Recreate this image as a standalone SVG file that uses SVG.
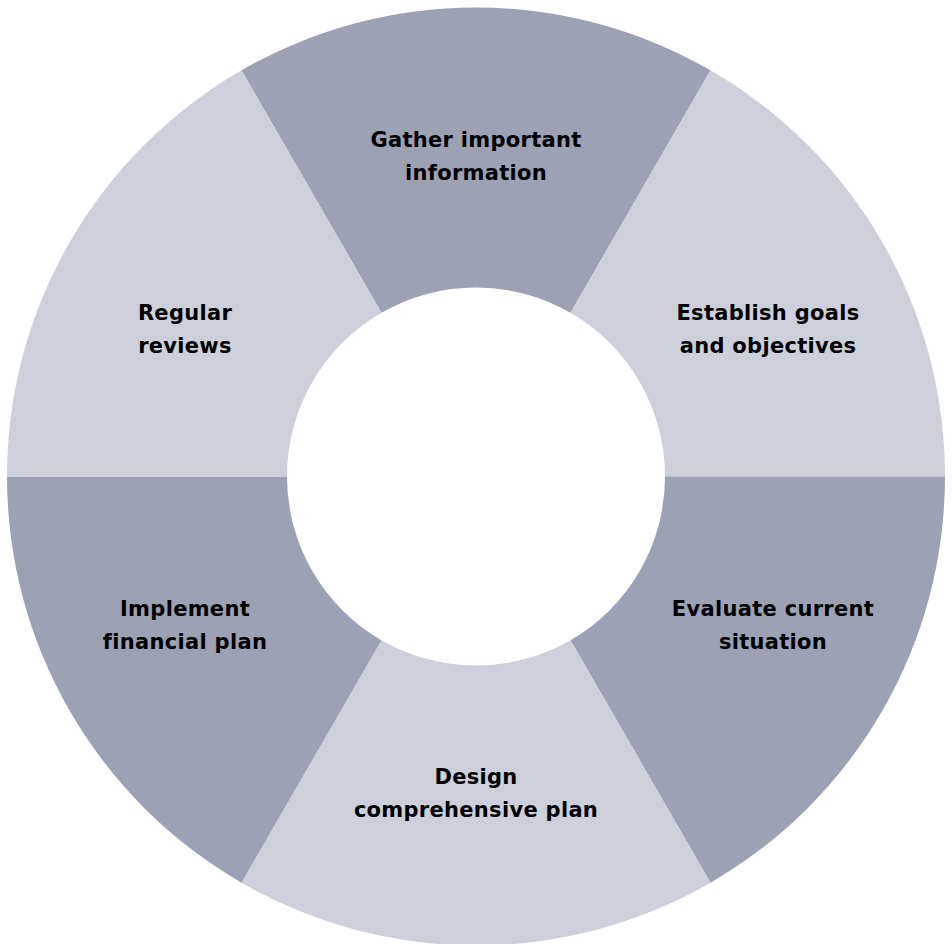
<svg xmlns="http://www.w3.org/2000/svg" width="952" height="944" viewBox="0 0 952 944">
<style>
.dark{fill:#9ca1b3}
.light{fill:#cdd0da}
text{font-family:"DejaVu Sans","Liberation Sans",sans-serif;font-weight:bold;font-size:21px;letter-spacing:0.3px;fill:#000;text-anchor:middle}
</style>
<rect width="952" height="944" fill="#fff"/>
<g id="seg-gather">
<path class="dark" d="M241.5,70.3 A469,469 0 0 1 710.5,70.3 L570.5,312.8 A189,189 0 0 0 381.5,312.8 Z"/>
<text x="476" y="147">Gather important</text>
<text x="476" y="180">information</text>
</g>
<g id="seg-establish">
<path class="light" d="M710.5,70.3 A469,469 0 0 1 945,476.5 L665,476.5 A189,189 0 0 0 570.5,312.8 Z"/>
<text x="768" y="320">Establish goals</text>
<text x="768" y="353">and objectives</text>
</g>
<g id="seg-evaluate">
<path class="dark" d="M945,476.5 A469,469 0 0 1 710.5,882.7 L570.5,640.2 A189,189 0 0 0 665,476.5 Z"/>
<text x="773" y="616">Evaluate current</text>
<text x="773" y="649">situation</text>
</g>
<g id="seg-design">
<path class="light" d="M710.5,882.7 A469,469 0 0 1 241.5,882.7 L381.5,640.2 A189,189 0 0 0 570.5,640.2 Z"/>
<text x="476" y="784">Design</text>
<text x="476" y="817">comprehensive plan</text>
</g>
<g id="seg-implement">
<path class="dark" d="M241.5,882.7 A469,469 0 0 1 7,476.5 L287,476.5 A189,189 0 0 0 381.5,640.2 Z"/>
<text x="185" y="616">Implement</text>
<text x="185" y="649">financial plan</text>
</g>
<g id="seg-regular">
<path class="light" d="M7,476.5 A469,469 0 0 1 241.5,70.3 L381.5,312.8 A189,189 0 0 0 287,476.5 Z"/>
<text x="185" y="320">Regular</text>
<text x="185" y="353">reviews</text>
</g>
<g id="connectors"></g>
</svg>
